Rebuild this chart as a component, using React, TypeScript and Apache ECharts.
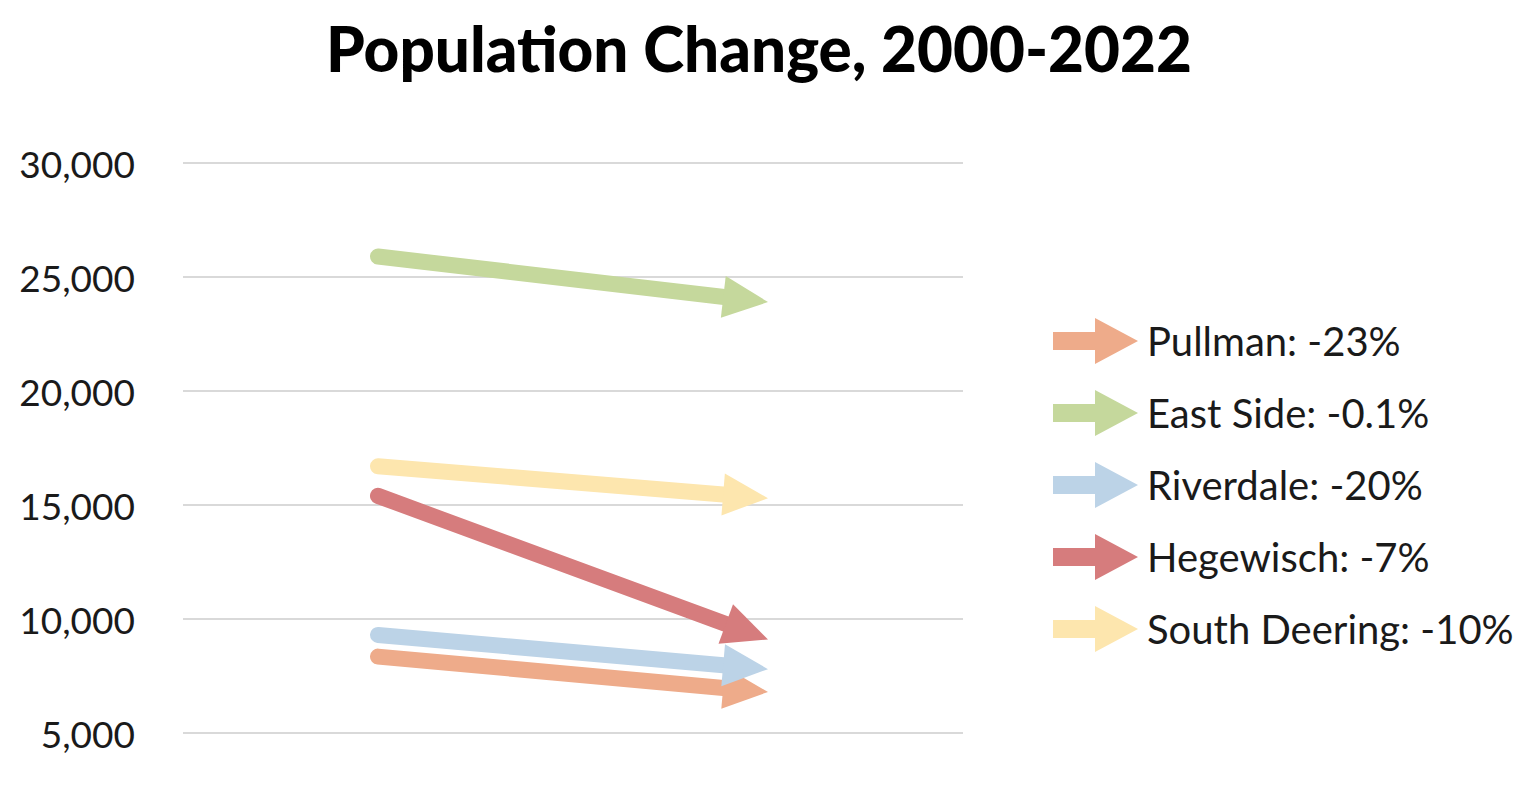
import React, { useEffect, useRef } from "react";
import * as echarts from "echarts";

const categories = ["2000", "2022"];
const seriesNames = [
  "Pullman: -23%",
  "East Side: -0.1%",
  "Riverdale: -20%",
  "Hegewisch: -7%",
  "South Deering: -10%",
];
const values2000 = [8350, 25900, 9300, 15400, 16700];
const values2022 = [6800, 23900, 7800, 9100, 15300];
const colors = ["#EEAB8A", "#C5D89C", "#BCD3E7", "#D67C7D", "#FDE6AE"];
const yTicks = { min: 5000, max: 30000, interval: 5000 };
const titleText = "Population Change, 2000-2022";

const FONT = "Lato, 'DejaVu Sans', sans-serif";

function renderArrow(params: any, api: any) {
  const p0 = api.coord([api.value(0), api.value(1)]);
  const p1 = api.coord([api.value(2), api.value(3)]);
  const color = api.visual("color");
  const dx = p1[0] - p0[0];
  const dy = p1[1] - p0[1];
  const len = Math.sqrt(dx * dx + dy * dy) || 1;
  const ux = dx / len;
  const uy = dy / len;
  const nx = -uy;
  const ny = ux;
  const L = 45;
  const W = 21;
  const bx = p1[0] - ux * L;
  const by = p1[1] - uy * L;
  return {
    type: "group",
    children: [
      {
        type: "line",
        shape: { x1: p0[0], y1: p0[1], x2: bx + ux * 3, y2: by + uy * 3 },
        style: { stroke: color, lineWidth: 16, lineCap: "round" },
      },
      {
        type: "polygon",
        shape: {
          points: [
            [p1[0], p1[1]],
            [bx + nx * W, by + ny * W],
            [bx - nx * W, by - ny * W],
          ],
        },
        style: { fill: color },
      },
    ],
  };
}

export default function App() {
  const ref = useRef<HTMLDivElement>(null);
  useEffect(() => {
    if (!ref.current) return;
    const chart = echarts.init(ref.current, null, { renderer: "svg" });
    const arrowIcon = "path://M0,14 L42,14 L42,0 L85,23 L42,46 L42,32 L0,32 Z";
    chart.setOption({
      animation: false,
      backgroundColor: "#ffffff",
      title: {
        text: titleText,
        left: 754,
        textAlign: "center",
        top: 12,
        textStyle: {
          fontFamily: FONT,
          fontWeight: 900,
          fontSize: 62,
          color: "#000000",
        },
      },
      grid: { left: 183, top: 163, width: 780, height: 570 },
      legend: {
        orient: "vertical",
        left: 1048,
        top: 313,
        itemWidth: 85,
        itemHeight: 46,
        itemGap: 26,
        data: seriesNames.map((n) => ({ name: n, icon: arrowIcon })),
        textStyle: {
          fontFamily: FONT,
          fontSize: 40,
          color: "#1a1a1a",
          padding: [0, 0, 0, 4],
        },
      },
      xAxis: {
        type: "category",
        data: categories,
        boundaryGap: true,
        axisLine: { show: false },
        axisTick: { show: false },
        axisLabel: { show: false },
        splitLine: { show: false },
      },
      yAxis: {
        type: "value",
        min: yTicks.min,
        max: yTicks.max,
        interval: yTicks.interval,
        axisLine: { show: false },
        axisTick: { show: false },
        axisLabel: {
          fontFamily: FONT,
          fontSize: 37,
          color: "#1a1a1a",
          margin: 48,
          formatter: (v: number) => v.toLocaleString("en-US"),
        },
        splitLine: { lineStyle: { color: "#d9d9d9", width: 2 } },
      },
      series: seriesNames.map((name, i) => ({
        type: "custom",
        name,
        itemStyle: { color: colors[i] },
        encode: { x: [0, 2], y: [1, 3] },
        renderItem: renderArrow,
        data: [[0, values2000[i], 1, values2022[i]]],
      })),
    });
    return () => chart.dispose();
  }, []);
  return (
    <div
      ref={ref}
      style={{ position: "fixed", left: 0, top: 0, width: 1530, height: 795 }}
    />
  );
}
